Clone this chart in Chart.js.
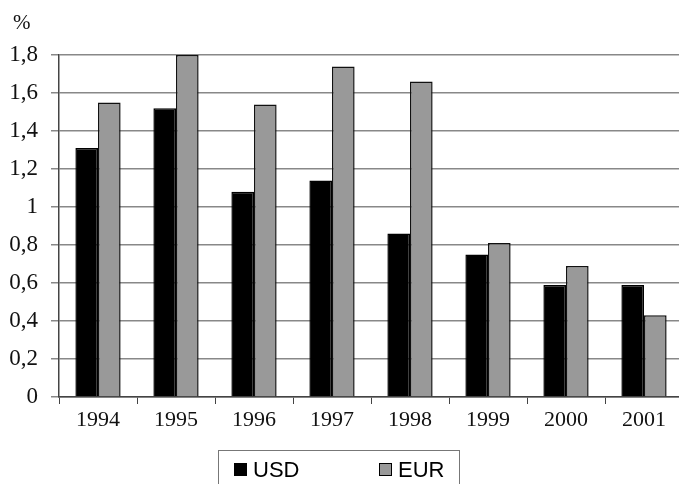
<!DOCTYPE html>
<html>
<head>
<meta charset="utf-8">
<script src="https://cdn.jsdelivr.net/npm/chart.js@4/dist/chart.umd.min.js"></script>
<style>
  html, body { margin: 0; padding: 0; background: #fff; overflow: hidden; }
  #wrap { width: 679px; height: 484px; overflow: hidden; }
  canvas { display: block; }
</style>
</head>
<body>
<div id="wrap"><canvas id="c" width="684" height="484"></canvas></div>
<script>
// Years on the horizontal axis
const years = ['1994', '1995', '1996', '1997', '1998', '1999', '2000', '2001'];
// Annual rates, %
const usdValues = [1.31, 1.52, 1.08, 1.14, 0.86, 0.75, 0.59, 0.59];
const eurValues = [1.55, 1.80, 1.54, 1.74, 1.66, 0.81, 0.69, 0.43];
// Series names
const seriesNames = ['USD', 'EUR'];
const unitLabel = '%';

const serif = '"Liberation Serif", "Times New Roman", serif';
const sans = '"Liberation Sans", Arial, sans-serif';

// Boxed legend under the axis and the unit label above the value axis
const decorations = {
  id: 'decorations',
  afterDraw(chart) {
    const ctx = chart.ctx;
    ctx.save();
    ctx.fillStyle = '#111';
    ctx.font = '21px ' + serif;
    ctx.textAlign = 'left';
    ctx.textBaseline = 'alphabetic';
    ctx.fillText(unitLabel, 13, 29);

    ctx.strokeStyle = '#777';
    ctx.lineWidth = 1;
    ctx.strokeRect(218.5, 450.5, 241, 40);

    const items = [{ x: 234, ds: chart.data.datasets[0] }, { x: 379, ds: chart.data.datasets[1] }];
    ctx.font = '22px ' + sans;
    ctx.textBaseline = 'middle';
    items.forEach(it => {
      ctx.fillStyle = it.ds.backgroundColor;
      ctx.fillRect(it.x, 463, 13, 13);
      ctx.strokeStyle = '#000';
      ctx.lineWidth = 1;
      ctx.strokeRect(it.x + 0.5, 463.5, 12, 12);
      ctx.fillStyle = '#000';
      ctx.fillText(it.ds.label, it.x + 19, 471);
    });
    ctx.restore();
  }
};

new Chart(document.getElementById('c'), {
  type: 'bar',
  data: {
    labels: years,
    datasets: [
      { label: seriesNames[0], data: usdValues, backgroundColor: '#000000', borderColor: '#000000', borderWidth: 1.5 },
      { label: seriesNames[1], data: eurValues, backgroundColor: '#999999', borderColor: '#111111', borderWidth: 1.5 }
    ]
  },
  options: {
    responsive: false,
    animation: false,
    layout: { padding: { top: 55, left: 0, right: 1, bottom: 0 } },
    datasets: { bar: { categoryPercentage: 0.58, barPercentage: 1.0 } },
    plugins: {
      legend: { display: false },
      tooltip: { enabled: false },
      title: { display: false }
    },
    scales: {
      x: {
        grid: { offset: true, drawOnChartArea: false, drawTicks: true, tickLength: 7, color: '#444', lineWidth: 1 },
        border: { color: '#444', width: 1.5 },
        ticks: { color: '#111', font: { family: serif, size: 22 }, padding: 3, maxRotation: 0 },
        afterFit(scale) { scale.height = 87; }
      },
      y: {
        min: 0,
        max: 1.8,
        grid: { color: '#888', lineWidth: 1.5, drawTicks: true, tickLength: 8 },
        border: { color: '#444', width: 1.5 },
        ticks: {
          stepSize: 0.2,
          color: '#111',
          font: { family: serif, size: 23 },
          padding: 13,
          callback: v => String(Number(v.toFixed(1))).replace('.', ',')
        },
        afterFit(scale) { scale.width = 59; }
      }
    }
  },
  plugins: [decorations]
});
</script>
</body>
</html>
